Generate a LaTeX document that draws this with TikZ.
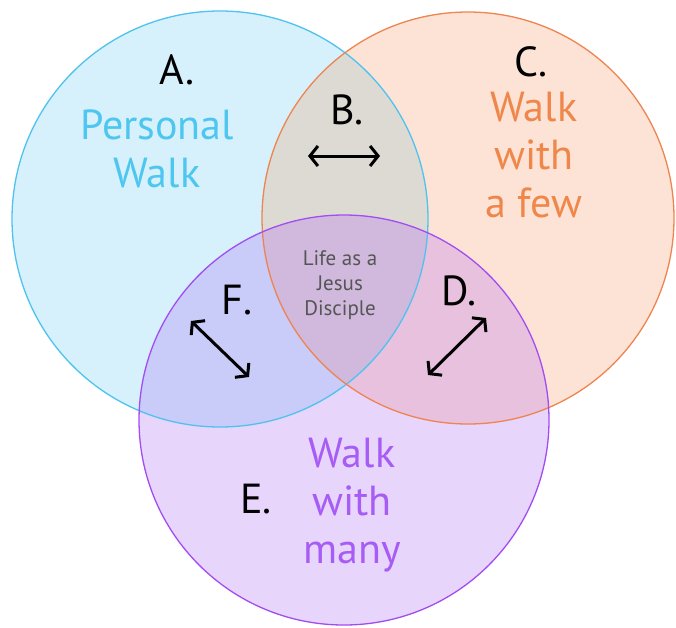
\documentclass[tikz,border=0pt]{standalone}
\usepackage{fontspec}
\setmainfont{PT Sans}
\usetikzlibrary{arrows.meta}
\definecolor{fillA}{HTML}{D6F1FB}
\definecolor{fillC}{HTML}{FCE3D5}
\definecolor{fillE}{HTML}{E8D5FC}
\definecolor{fillAC}{HTML}{DDDAD3}
\definecolor{fillAE}{HTML}{C9CBF9}
\definecolor{fillCE}{HTML}{E8C1DF}
\definecolor{fillACE}{HTML}{D0B9DC}
\definecolor{lineA}{HTML}{4EC3EE}
\definecolor{lineC}{HTML}{EE8450}
\definecolor{lineE}{HTML}{A24CF2}
\definecolor{txtA}{HTML}{4DC6F0}
\definecolor{txtC}{HTML}{F0874A}
\definecolor{txtE}{HTML}{A65CF5}
\definecolor{txtMid}{HTML}{555555}
\tikzset{
  letter/.style={font=\fontsize{42}{48}\selectfont, text=black, inner sep=0pt},
  walktext/.style={font=\fontsize{42}{48}\selectfont, align=center, inner sep=0pt},
  midtext/.style={font=\fontsize{21}{25}\selectfont, text=txtMid, align=center, inner sep=0pt},
  relarrow/.style={line width=3pt, {Straight Barb[length=8pt,width=20pt]}-{Straight Barb[length=8pt,width=20pt]}},
  ring/.style={line width=1.3pt}
}
\begin{document}
\begin{tikzpicture}[x=1pt,y=-1pt]
\useasboundingbox (0,0) rectangle (676,627);
\def\circA{(220,219) circle (208)}
\def\circC{(468,218) circle (206)}
\def\circE{(344,420) circle (205)}
% base fills
\fill[fillA] \circA;
\fill[fillC] \circC;
\fill[fillE] \circE;
% pairwise overlaps
\begin{scope}\clip \circA; \fill[fillAC] \circC; \end{scope}
\begin{scope}\clip \circA; \fill[fillAE] \circE; \end{scope}
\begin{scope}\clip \circC; \fill[fillCE] \circE; \end{scope}
\begin{scope}\clip \circA; \clip \circC; \fill[fillACE] \circE; \end{scope}
% outlines
\draw[ring, lineA] \circA;
\draw[ring, lineC] \circC;
\draw[ring, lineE] \circE;
% labels
\node[letter] (la) at (177,70) {A.};
\node[letter] (lb) at (347,110) {B.};
\node[letter] (lc) at (531,62) {C.};
\node[letter] (ld) at (459,291) {D.};
\node[letter] (le) at (256,499) {E.};
\node[letter] (lf) at (237,300) {F.};
\node[walktext, text=txtA] (ta) at (157,149) {Personal\\Walk};
\node[walktext, text=txtC] (tc) at (534,155) {Walk\\with\\a few};
\node[walktext, text=txtE] (te) at (352,505) {Walk\\with\\many};
\node[midtext] (mid) at (340,285) {Life as a\\Jesus\\Disciple};
% arrows
\coordinate (b1) at (308,156);
\coordinate (b2) at (380,156);
\coordinate (f1) at (191,321);
\coordinate (f2) at (249,377);
\coordinate (d1) at (486,318);
\coordinate (d2) at (428,375);
\draw[relarrow] (b1) -- (b2);
\draw[relarrow] (f1) -- (f2);
\draw[relarrow] (d1) -- (d2);
\end{tikzpicture}
\end{document}
